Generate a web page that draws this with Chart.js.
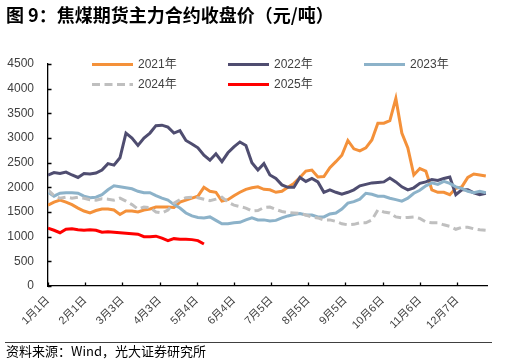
<!DOCTYPE html>
<html>
<head>
<meta charset="utf-8">
<script src="https://cdn.jsdelivr.net/npm/chart.js@4/dist/chart.umd.min.js"></script>
<style>
html,body{margin:0;padding:0;background:#fff;}
#wrap{position:relative;width:516px;height:364px;}
</style>
</head>
<body>
<div id="wrap"><canvas id="c" width="516" height="364"></canvas></div>
<script>
// ---- data (sampled every 5 days from Jan 1) ----
const titleText = '图 9：焦煤期货主力合约收盘价（元/吨）';
const sourceText = '资料来源：Wind，光大证券研究所';
const sampleStepDays = 5;
const xTickLabels = ['1月1日','2月1日','3月3日','4月3日','5月4日','6月4日','7月5日','8月5日','9月5日','10月6日','11月6日','12月7日'];
const xTickStepDays = 31;
const seriesNames = ['2021年','2022年','2023年','2024年','2025年'];

const y2021 = [1640,1700,1740,1700,1650,1580,1520,1480,1530,1560,1560,1540,1450,1520,1520,1500,1540,1560,1600,1600,
  1600,1590,1700,1740,1780,1820,2000,1920,1900,1720,1750,1830,1900,1960,1990,2010,1960,1950,1900,1920,
  2000,2080,2200,2330,2350,2210,2220,2400,2520,2650,2950,2780,2740,2800,2960,3300,3300,3350,3800,3100,
  2800,2250,2380,2330,1950,1900,1900,1850,1980,2010,2200,2270,2250,2230];
const y2022 = [2250,2300,2280,2310,2250,2200,2280,2270,2290,2350,2480,2450,2600,3100,3000,2850,3000,3100,3250,3260,
  3220,3100,3150,2950,2880,2800,2650,2550,2680,2520,2700,2820,2920,2850,2500,2350,2480,2250,2180,2050,
  2000,2000,2200,2120,2180,2110,1900,1950,1900,1860,1900,1950,2030,2060,2090,2100,2110,2190,2110,2010,
  1950,1990,2080,2110,2160,2140,2180,2210,1850,1950,1950,1890,1850,1880];
const y2023 = [1900,1820,1880,1890,1890,1880,1820,1790,1800,1850,1950,2030,2010,1990,1970,1920,1890,1890,1830,1780,
  1740,1650,1580,1480,1420,1390,1380,1400,1330,1260,1260,1280,1290,1340,1380,1340,1340,1320,1330,1380,
  1420,1450,1470,1440,1440,1400,1400,1460,1480,1560,1680,1710,1760,1880,1860,1820,1820,1780,1750,1720,
  1780,1880,1940,2030,2090,2060,2120,2080,2010,1980,1920,1890,1920,1890];
const y2024 = [1950,1830,1780,1800,1780,1800,1780,1750,1740,1770,1760,1740,1780,1720,1650,1560,1600,1590,1500,1480,
  1540,1680,1750,1790,1800,1790,1760,1730,1760,1800,1700,1640,1610,1580,1520,1530,1590,1600,1550,1510,
  1490,1480,1470,1440,1400,1380,1340,1340,1310,1260,1240,1250,1280,1280,1340,1540,1500,1480,1400,1380,
  1390,1400,1370,1300,1280,1280,1240,1210,1150,1190,1190,1160,1140,1130];
const y2025 = [1170,1130,1080,1150,1160,1140,1130,1140,1130,1090,1100,1090,1080,1070,1060,1050,1000,1000,1010,970,
  920,960,950,950,940,920,850];
const yTickValues = [0,500,1000,1500,2000,2500,3000,3500,4000,4500];

const seriesColors = ['#F4913A','#4F4D70','#8CB2C9','#BFBFBF','#FF0000'];
const seriesDash = [[],[],[],[8,4.5],[]];

const allSeries = [y2021,y2022,y2023,y2024,y2025];
const toPoints = arr => arr.map((v,i)=>({x:i*sampleStepDays, y:v}));
const tickDays = xTickLabels.map((_,i)=>i*xTickStepDays);

const latin = "'Liberation Sans', 'Noto Sans CJK SC', sans-serif";
const cjk = "'Noto Sans CJK SC', sans-serif";

const decor = {
  id:'decor',
  afterDraw(chart){
    const ctx = chart.ctx;
    const xs = chart.scales.x, ys = chart.scales.y;
    const ca = chart.chartArea;
    ctx.save();
    // inward tick marks
    ctx.strokeStyle = '#000'; ctx.lineWidth = 1.3;
    ctx.beginPath();
    yTickValues.forEach(v=>{ const p = Math.round(ys.getPixelForValue(v))+0.5; ctx.moveTo(ca.left, p); ctx.lineTo(ca.left+3.5, p); });
    tickDays.forEach(d=>{ const p = Math.round(xs.getPixelForValue(d))+0.5; ctx.moveTo(p, ca.bottom); ctx.lineTo(p, ca.bottom-3.5); });
    ctx.stroke();
    // legend
    const cols = [92,228,364];
    const rows = [64.5,84.5];
    chart.data.datasets.forEach((ds,i)=>{
      const cx = cols[i%3], cy = rows[Math.floor(i/3)];
      ctx.beginPath();
      ctx.setLineDash(ds.borderDash||[]);
      ctx.strokeStyle = ds.borderColor; ctx.lineWidth = 3;
      ctx.moveTo(cx, cy); ctx.lineTo(cx+41, cy); ctx.stroke();
      ctx.setLineDash([]);
      ctx.fillStyle = '#404040';
      ctx.font = '12px ' + latin;
      ctx.textBaseline = 'middle'; ctx.textAlign = 'left';
      ctx.fillText(ds.label, cx+46, cy+0.5);
    });
    // title
    ctx.fillStyle = '#000';
    ctx.font = 'bold 18px ' + cjk;
    ctx.textBaseline = 'middle'; ctx.textAlign = 'left';
    ctx.fillText(titleText, 6, 15);
    // footer
    ctx.strokeStyle = '#404040'; ctx.lineWidth = 1;
    ctx.beginPath(); ctx.moveTo(5, 342.5); ctx.lineTo(492, 342.5); ctx.stroke();
    ctx.fillStyle = '#000';
    ctx.font = '13px ' + cjk;
    ctx.fillText(sourceText, 6, 351);
    ctx.restore();
  }
};

new Chart(document.getElementById('c'), {
  type:'line',
  data:{
    datasets: allSeries.map((arr,i)=>({
      label: seriesNames[i],
      data: toPoints(arr),
      borderColor: seriesColors[i],
      backgroundColor: seriesColors[i],
      borderDash: seriesDash[i],
      borderWidth: 3,
      pointRadius: 0,
      tension: 0,
      fill: false,
      order: 5 - i
    }))
  },
  options:{
    responsive:false,
    animation:false,
    devicePixelRatio:1,
    layout:{padding:{left:0, top:64, right:29, bottom:0}},
    plugins:{legend:{display:false}, title:{display:false}, tooltip:{enabled:false}},
    scales:{
      x:{
        type:'linear', min:0, max:366,
        afterBuildTicks: s => { s.ticks = tickDays.map(v=>({value:v})); },
        afterFit: s => { s.height = 78; },
        grid:{display:false, drawTicks:false},
        border:{display:true, color:'#000', width:1.3},
        ticks:{
          autoSkip:false, maxRotation:45, minRotation:45, padding:8,
          color:'#404040', font:{size:11, family:latin},
          callback:(v)=>{ const k = tickDays.indexOf(v); return k>=0 ? xTickLabels[k] : ''; }
        }
      },
      y:{
        min:0, max:4500,
        afterBuildTicks: s => { s.ticks = yTickValues.map(v=>({value:v})); },
        afterFit: s => { s.width = 48; },
        grid:{display:false, drawTicks:false},
        border:{display:true, color:'#000', width:1.3},
        ticks:{padding:14, color:'#404040', font:{size:12, family:latin}, callback:(v)=>String(v)}
      }
    }
  },
  plugins:[decor]
});
</script>
</body>
</html>
